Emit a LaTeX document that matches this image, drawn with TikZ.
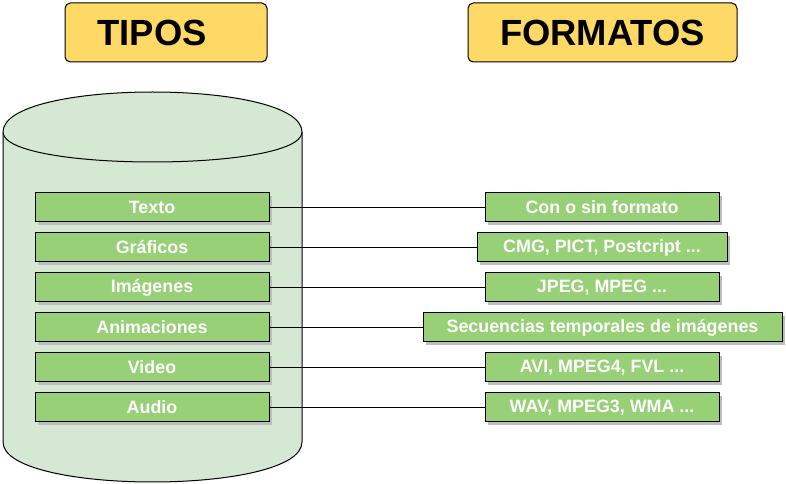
\documentclass[tikz,border=0pt]{standalone}
\usepackage{fontspec}
\setmainfont{Liberation Sans}
\usetikzlibrary{shadows}
\definecolor{titlefill}{HTML}{FFD966}
\definecolor{cylfill}{HTML}{D5E8D4}
\definecolor{boxfill}{HTML}{97D077}
\definecolor{shadowgray}{HTML}{BDBDBD}
\tikzset{
  titlebox/.style={draw=black, line width=0.75pt, fill=titlefill, rounded corners=4pt,
    minimum height=59*0.75pt, inner sep=0pt,
    font=\fontsize{27.3}{32}\selectfont\bfseries},
  itembox/.style={draw=black, line width=0.75pt, fill=boxfill, text=white,
    minimum height=29*0.75pt, inner sep=0pt,
    font=\fontsize{13.4}{16}\selectfont\bfseries,
    drop shadow={shadow xshift=2.25pt, shadow yshift=-2.25pt, fill=shadowgray, opacity=1}},
  cyl/.style={draw=black, line width=0.75pt, fill=cylfill},
  link/.style={draw=black, line width=0.75pt}
}
\begin{document}
\begin{tikzpicture}[x=0.75pt, y=-0.75pt]
\useasboundingbox (0,0) rectangle (786,484);
% titles
\node[titlebox, minimum width=202*0.75pt] (tipos) at (166,32.5) {TIPOS\hspace*{21pt}};
\node[titlebox, minimum width=269*0.75pt] (formatos) at (602.5,32.5) {FORMATOS};
% cylinder
\path[cyl] (3,132) -- (3,442) .. controls (3,495.33) and (302,495.33) .. (302,442) -- (302,132);
\draw[cyl] (3,132) .. controls (3,78.67) and (302,78.67) .. (302,132)
  .. controls (302,172) and (3,172) .. (3,132);
% left boxes
\foreach \n/\t/\y in {t1/Texto/207.5, t2/Gráficos/247.5, t3/Imágenes/287.5, t4/Animaciones/327.5, t5/Video/367.5, t6/Audio/407.5}{
  \node[itembox, minimum width=234*0.75pt] (\n) at (152,\y) {\t};
}
% right boxes
\node[itembox, minimum width=234*0.75pt] (f1) at (602,207.5) {Con o sin formato};
\node[itembox, minimum width=250*0.75pt] (f2) at (602,247.5) {CMG, PICT, Postcript ...};
\node[itembox, minimum width=234*0.75pt] (f3) at (602,287.5) {JPEG, MPEG ...};
\node[itembox, minimum width=359*0.75pt] (f4) at (602.5,327.5) {Secuencias temporales de imágenes};
\node[itembox, minimum width=234*0.75pt] (f5) at (602,367.5) {AVI, MPEG4, FVL ...};
\node[itembox, minimum width=234*0.75pt] (f6) at (602,407.5) {WAV, MPEG3, WMA ...};
% links
\foreach \i in {1,...,6}{
  \draw[link] (t\i.east) -- (f\i.west);
}
\end{tikzpicture}
\end{document}
